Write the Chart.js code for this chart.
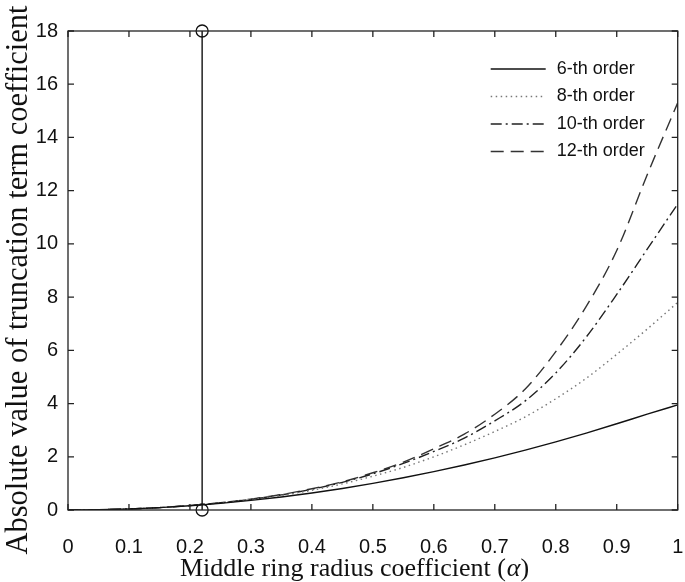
<!DOCTYPE html>
<html>
<head>
<meta charset="utf-8">
<script src="https://cdn.jsdelivr.net/npm/chart.js@4.4.1/dist/chart.umd.min.js"></script>
<style>
  html, body { margin: 0; padding: 0; background: #fff; }
  #wrap { width: 685px; height: 582px; position: relative; }
</style>
</head>
<body>
<div id="wrap"><canvas id="chart"></canvas></div>
<script>
// values
const alpha = [0, 0.05, 0.1, 0.15, 0.2, 0.25, 0.3, 0.35, 0.4, 0.45, 0.5, 0.55, 0.6, 0.65, 0.7, 0.75, 0.8, 0.85, 0.9, 0.95, 1];
const order6 = [0, 0.01, 0.04, 0.09, 0.16, 0.25, 0.36, 0.49, 0.64, 0.81, 1.0, 1.21, 1.44, 1.69, 1.96, 2.25, 2.56, 2.89, 3.24, 3.6, 3.95];
const order8 = [0, 0.01, 0.04, 0.09, 0.17, 0.27, 0.39, 0.55, 0.74, 0.98, 1.27, 1.6, 2.0, 2.45, 2.95, 3.5, 4.18, 4.95, 5.85, 6.8, 7.8];
const order10 = [0, 0.01, 0.04, 0.09, 0.17, 0.27, 0.4, 0.57, 0.78, 1.04, 1.36, 1.75, 2.2, 2.7, 3.35, 4.1, 5.15, 6.5, 8.1, 9.8, 11.5];
const order12 = [0, 0.01, 0.04, 0.09, 0.17, 0.27, 0.41, 0.58, 0.8, 1.06, 1.4, 1.8, 2.3, 2.85, 3.6, 4.55, 5.95, 7.65, 9.75, 12.6, 15.3];
const seriesNames = ['6-th order', '8-th order', '10-th order', '12-th order'];
const markerAlpha = [0.22, 0.22];
const markerValue = [0, 18];
const xTickLabels = ['0', '0.1', '0.2', '0.3', '0.4', '0.5', '0.6', '0.7', '0.8', '0.9', '1'];
const yTickLabels = ['0', '2', '4', '6', '8', '10', '12', '14', '16', '18'];
const xTitleParts = ['Middle ring radius coefficient (', 'α', ')'];
const yTitle = 'Absolute value of truncation term coefficient';

const toPoints = (xs, ys) => xs.map((x, i) => ({ x: x, y: ys[i] }));
const tickFont = { family: "'Liberation Sans', Arial, sans-serif", size: 20 };
const serif = "'Liberation Serif', 'Times New Roman', serif";

function lineSet(label, ys, color, dash) {
  return {
    label: label,
    data: toPoints(alpha, ys),
    borderColor: color,
    borderWidth: 1.4,
    borderDash: dash,
    pointRadius: 0,
    cubicInterpolationMode: 'monotone',
    fill: false
  };
}

// box + inward ticks like the original figure
const frameTicks = {
  id: 'frameTicks',
  afterDraw(chart) {
    const { ctx, chartArea: a, scales } = chart;
    ctx.save();
    ctx.strokeStyle = '#222';
    ctx.lineWidth = 1.3;
    ctx.strokeRect(a.left, a.top, a.right - a.left, a.bottom - a.top);
    ctx.beginPath();
    scales.x.ticks.forEach(t => {
      const px = scales.x.getPixelForValue(t.value);
      ctx.moveTo(px, a.bottom); ctx.lineTo(px, a.bottom - 6);
      ctx.moveTo(px, a.top); ctx.lineTo(px, a.top + 6);
    });
    scales.y.ticks.forEach(t => {
      const py = scales.y.getPixelForValue(t.value);
      ctx.moveTo(a.left, py); ctx.lineTo(a.left + 6, py);
      ctx.moveTo(a.right, py); ctx.lineTo(a.right - 6, py);
    });
    ctx.stroke();
    ctx.restore();
  }
};

// axis titles (x title has an italic alpha)
const axisTitles = {
  id: 'axisTitles',
  afterDraw(chart) {
    const { ctx } = chart;
    ctx.save();
    ctx.fillStyle = '#111';
    ctx.textBaseline = 'alphabetic';
    ctx.textAlign = 'left';
    let x = 180;
    xTitleParts.forEach((part, i) => {
      ctx.font = (i === 1 ? 'italic ' : '') + '26px ' + serif;
      ctx.fillText(part, x, 576);
      x += ctx.measureText(part).width + (i === 0 ? 1 : 0);
    });
    ctx.font = '30.5px ' + serif;
    ctx.textAlign = 'center';
    ctx.translate(27, 280);
    ctx.rotate(-Math.PI / 2);
    ctx.fillText(yTitle, 0, 0);
    ctx.restore();
  }
};

// legend sits inside the plot, no box
const insideLegend = {
  id: 'insideLegend',
  afterDraw(chart) {
    const { ctx, chartArea: a } = chart;
    ctx.save();
    ctx.font = "18px 'Liberation Sans', Arial, sans-serif";
    ctx.textBaseline = 'middle';
    ctx.fillStyle = '#111';
    chart.data.datasets.slice(0, 4).forEach((ds, i) => {
      const y = a.top + 38 + i * 27.5;
      const x0 = a.right - 187;
      ctx.strokeStyle = ds.borderColor;
      ctx.lineWidth = ds.borderWidth;
      ctx.setLineDash(ds.borderDash || []);
      ctx.beginPath();
      ctx.moveTo(x0, y); ctx.lineTo(x0 + 55, y);
      ctx.stroke();
      ctx.setLineDash([]);
      ctx.fillText(ds.label, x0 + 66, y);
    });
    ctx.restore();
  }
};

const ctx = document.getElementById('chart').getContext('2d');
new Chart(ctx, {
  type: 'line',
  data: {
    datasets: [
      lineSet(seriesNames[0], order6, '#111', []),
      lineSet(seriesNames[1], order8, '#777', [1.5, 3.5]),
      lineSet(seriesNames[2], order10, '#222', [11, 4, 2, 4]),
      lineSet(seriesNames[3], order12, '#333', [13, 7]),
      {
        label: '',
        data: toPoints(markerAlpha, markerValue),
        borderColor: '#111',
        borderWidth: 1.4,
        pointRadius: 6,
        pointBorderWidth: 1.3,
        pointBorderColor: '#111',
        pointBackgroundColor: 'rgba(255,255,255,0)',
        clip: false
      }
    ]
  },
  options: {
    responsive: true,
    maintainAspectRatio: false,
    animation: false,
    layout: { padding: { top: 31, right: 0, left: 0, bottom: 0 } },
    plugins: {
      legend: { display: false },
      tooltip: { enabled: false }
    },
    scales: {
      x: {
        type: 'linear',
        min: 0,
        max: 1,
        ticks: {
          stepSize: 0.1,
          color: '#111',
          font: tickFont,
          padding: 25,
          maxRotation: 0,
          callback: (v, i) => xTickLabels[i]
        },
        grid: { display: false, drawTicks: false },
        border: { display: false },
        title: { display: false },
        afterFit(scale) {
          scale.height = 72;
          scale.paddingLeft = 0;
          scale.paddingRight = 6;
        }
      },
      y: {
        min: 0,
        max: 18,
        ticks: {
          stepSize: 2,
          color: '#111',
          font: tickFont,
          padding: 10,
          callback: (v, i) => yTickLabels[i]
        },
        grid: { display: false, drawTicks: false },
        border: { display: false },
        title: { display: false },
        afterFit(scale) { scale.width = 68; }
      }
    }
  },
  plugins: [frameTicks, axisTitles, insideLegend]
});
</script>
</body>
</html>
